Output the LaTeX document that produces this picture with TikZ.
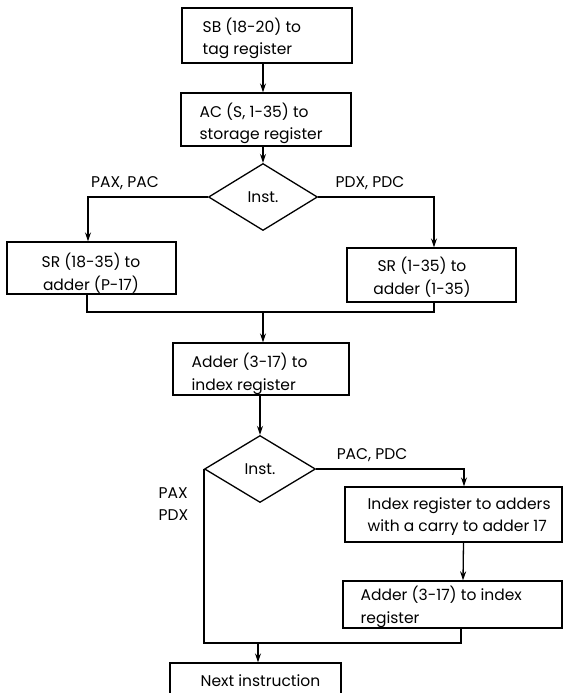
\documentclass[tikz,border=0pt]{standalone}
\usepackage{fontspec}
\setmainfont{Poppins}
\usetikzlibrary{shapes.geometric,arrows.meta}
\begin{document}
\begin{tikzpicture}[x=1pt,y=-1pt,
  font=\fontsize{15.5}{22.5}\selectfont,
  line width=1.3pt,
  arr/.style={-{Stealth[length=9pt,width=6pt]}},
  box/.style={draw,rectangle,inner sep=0pt,anchor=center},
  txt/.style={align=left,anchor=west,inner sep=0pt},
  ctxt/.style={align=center,anchor=center,inner sep=0pt},
  decision/.style={draw,diamond,inner sep=0pt,anchor=center},
  lbl/.style={inner sep=0pt}]
\useasboundingbox (0,0) rectangle (564,693);
\clip (0,0) rectangle (564,693);

% frames of the register transfer steps
\node[box,minimum width=170,minimum height=55] (b1) at (267,35.5) {};
\node[box,minimum width=170,minimum height=53] (b2) at (266,119.5) {};
\node[decision,minimum width=109,minimum height=67] (d1) at (263,197) {Inst.};
\node[box,minimum width=169,minimum height=52] (bl) at (91.5,268) {};
\node[box,minimum width=169,minimum height=54] (br) at (431.5,275) {};
\node[box,minimum width=176,minimum height=52] (b3) at (261,369) {};
\node[decision,minimum width=111,minimum height=67] (d2) at (260,469) {Inst.};
\node[box,minimum width=217,minimum height=55] (b4) at (453.5,514.5) {};
\node[box,minimum width=219,minimum height=47] (b5) at (452.5,604.5) {};
\node[box,minimum width=171,minimum height=36] (b6) at (255.5,681) {};

% step texts
\node[txt] (t1) at (202,38.5) {SB (18-20) to\\tag register};
\node[txt] (t2) at (199,123.5) {AC (S, 1-35) to\\storage register};
\node[ctxt] (tl) at (91,273) {SR (18-35) to\\adder (P-17)};
\node[ctxt] (tr) at (422,277) {SR (1-35) to\\adder (1-35)};
\node[txt] (t3) at (191,374) {Adder (3-17) to\\index register};
\node[txt] (t4) at (367,516.5) {Index register to adders\\with a carry to adder 17};
\node[txt] (t5) at (360,607) {Adder (3-17) to index\\register};
\node[txt] (t6) at (200,681) {Next instruction};

% branch labels
\node[lbl] (lpax) at (125,183) {PAX, PAC};
\node[lbl] (lpdx) at (370,183) {PDX, PDC};
\node[lbl] (lpac) at (372,455) {PAC, PDC};
\node[lbl,align=left,anchor=west] (lpx) at (158,504) {PAX\\PDX};

% join points
\coordinate (m1) at (263,312);
\coordinate (m2) at (258,643);

% connectors
\draw[arr] (b1.south -| d1) -- (b2.north -| d1);
\draw[arr] (b2.south -| d1) -- (d1.north);
\draw[arr] (d1.west) -| ([xshift=-3.5]bl.north);
\draw[arr] (d1.east) -| ([xshift=2.5]br.north);
\draw ([xshift=-4.5]bl.south) |- (m1) -| ([xshift=2.5]br.south);
\draw[arr] (m1) -- (b3.north -| m1);
\draw[arr] (b3.south -| d2) -- (d2.north);
\draw[arr] (d2.east) -| ([xshift=10.5]b4.north);
\draw[arr] ([xshift=10]b4.south) -- ([xshift=10.5]b5.north);
\draw (d2.west) |- (m2) -| ([xshift=8.5]b5.south);
\draw[arr] (m2) -- (b6.north -| m2);
\end{tikzpicture}
\end{document}
